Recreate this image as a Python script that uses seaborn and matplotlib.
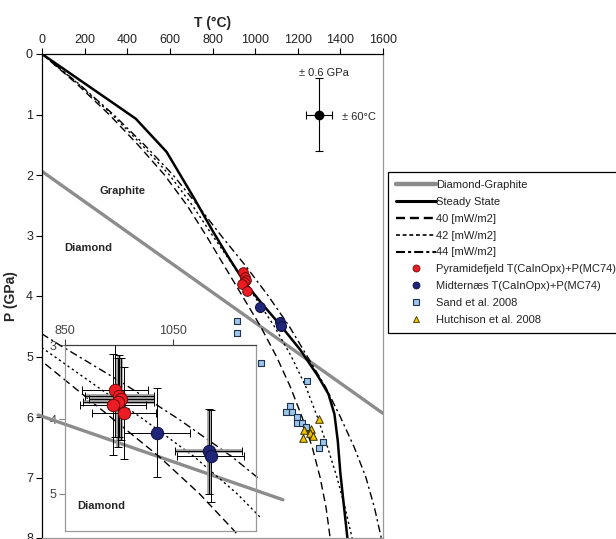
import numpy as np
import pandas as pd
import seaborn as sns
import matplotlib.pyplot as plt
from matplotlib.lines import Line2D
from matplotlib.patches import Rectangle

# diamond-graphite boundary (main plot and inset)
dg_T = [0, 1600]
dg_P = [1.94, 5.94]
dg_in_T = [800, 1255]
dg_in_P = [3.94, 5.08]

# steady state geotherm
ss_T = [0, 350, 440, 585, 718, 800, 870, 944, 1030, 1118, 1212, 1296, 1344, 1372, 1388, 1400, 1416, 1433]
ss_P = [0, 0.85, 1.07, 1.62, 2.41, 2.92, 3.33, 3.74, 4.12, 4.48, 4.89, 5.33, 5.62, 5.95, 6.4, 6.93, 7.45, 8.0]

# surface heat flow geotherms
geo_P = [0, 0.5, 1.0, 1.5, 2.0, 2.5, 3.0, 3.5, 4.0, 4.5, 5.0, 5.5, 6.0, 6.5, 7.0, 7.5, 8.0]
geo40_T = [0, 165, 315, 450, 575, 680, 770, 855, 940, 1025, 1100, 1165, 1220, 1268, 1305, 1333, 1352]
geo42_T = [0, 172, 328, 468, 598, 705, 800, 898, 996, 1090, 1170, 1238, 1292, 1340, 1384, 1422, 1455]
geo44_T = [0, 175, 335, 480, 615, 730, 840, 955, 1062, 1160, 1245, 1330, 1400, 1465, 1520, 1560, 1592]

# Pyramidefjeld
pyr_T = [943, 951, 955, 949, 939, 960]
pyr_P = [3.61, 3.69, 3.73, 3.77, 3.80, 3.91]
pyr_Terr = [62, 64, 60, 66, 62, 60]
pyr_Perr = [0.63, 0.55, 0.55, 0.60, 0.68, 0.62]
pyr_gray = [False, True, True, True, False, False]

# Midternaes
mid_T = [1021, 1117, 1121]
mid_P = [4.18, 4.43, 4.49]
mid_Terr = [62, 62, 62]
mid_Perr = [0.60, 0.57, 0.62]
mid_gray = [False, True, False]

# Sand et al. 2008
sand_T = [914, 917, 1028, 1245, 1165, 1146, 1173, 1197, 1196, 1220, 1240, 1318, 1301]
sand_P = [4.41, 4.61, 5.11, 5.41, 5.82, 5.91, 5.91, 6.00, 6.10, 6.10, 6.16, 6.41, 6.51]

# Hutchison et al. 2008
hut_T = [1301, 1227, 1262, 1257, 1272, 1223]
hut_P = [6.04, 6.21, 6.20, 6.27, 6.31, 6.34]

# uncertainty glyph
unc_T, unc_P, unc_Terr, unc_Perr = [1300], [1.0], [60], [0.6]

GRAY = '#8c8c8c'
RED = '#ec1c24'
NAVY = '#1f2577'
LBLUE = '#9cc6ea'
YEL = '#f2c200'

sns.set_theme(style='white')
plt.rcParams['font.family'] = ['Liberation Sans', 'DejaVu Sans']
plt.rcParams['lines.scale_dashes'] = False

DASH40 = (0, (5.5, 3))
DASH42 = (0, (1.6, 2.2))
DASH44 = (0, (5.5, 2.5, 1.6, 2.5))

fig = plt.figure(figsize=(6.16, 5.39), dpi=100)
ax = fig.add_axes([42/616, 1/539, 341/616, 484/539])

def line(a, x, y, **kw):
    sns.lineplot(x=x, y=y, ax=a, sort=False, estimator=None, **kw)
    return a.lines[-1]

line(ax, dg_T, dg_P, color=GRAY, lw=2.4, zorder=2)
line(ax, geo40_T, geo_P, color='black', lw=1.0, linestyle=DASH40, zorder=2)
line(ax, geo42_T, geo_P, color='black', lw=1.0, linestyle=DASH42, zorder=2)
line(ax, geo44_T, geo_P, color='black', lw=1.0, linestyle=DASH44, zorder=2)
line(ax, ss_T, ss_P, color='black', lw=1.8, zorder=2)

sns.scatterplot(x=sand_T, y=sand_P, ax=ax, marker='s', s=24, color=LBLUE,
                edgecolor='#1d3350', linewidth=0.8, zorder=4)
sns.scatterplot(x=hut_T, y=hut_P, ax=ax, marker='^', s=30, color=YEL,
                edgecolor='#3a3000', linewidth=0.7, zorder=4)
sns.scatterplot(x=pyr_T, y=pyr_P, ax=ax, marker='o', s=48, color=RED,
                edgecolor='#6a0a0a', linewidth=0.7, zorder=5)
sns.scatterplot(x=mid_T, y=mid_P, ax=ax, marker='o', s=52, color=NAVY,
                edgecolor='#0d1040', linewidth=0.7, zorder=5)

ax.errorbar(unc_T, unc_P, xerr=unc_Terr, yerr=unc_Perr, fmt='o', color='black',
            ms=6, elinewidth=0.8, capsize=3, capthick=0.8)
ax.text(1322, 0.31, '± 0.6 GPa', ha='center', va='center', fontsize=8)
ax.text(1408, 1.04, '± 60°C', ha='left', va='center', fontsize=8)
ax.text(378, 2.26, 'Graphite', ha='center', va='center', fontsize=8, fontweight='bold')
ax.text(219, 3.21, 'Diamond', ha='center', va='center', fontsize=8, fontweight='bold')

ax.set_xlim(0, 1600)
ax.set_ylim(8, 0)
ax.set_xticks(range(0, 1601, 200))
ax.set_yticks(range(0, 9))
ax.xaxis.tick_top()
ax.xaxis.set_label_position('top')
ax.tick_params(axis='x', top=True, bottom=False, labeltop=True, labelbottom=False,
               direction='out', length=4, width=0.8, color='black', pad=2,
               labelsize=9, labelcolor='#222222')
ax.tick_params(axis='y', left=True, direction='out', length=4, width=0.8,
               color='black', pad=2.5, labelsize=9, labelcolor='#222222')
ax.set_xlabel('T (°C)', fontsize=10, fontweight='bold', labelpad=5)
ax.set_ylabel('P (GPa)', fontsize=10, fontweight='bold', labelpad=6)
for side, col in [('top', 'black'), ('left', 'black'), ('right', '#9a9a9a'), ('bottom', '#9a9a9a')]:
    ax.spines[side].set_visible(True)
    ax.spines[side].set_color(col)
    ax.spines[side].set_linewidth(0.9)

# inset
ax_in = fig.add_axes([65/616, 1 - 531/539, 191/616, 186/539])
ax_in.set_facecolor('white')
ax_in.set_xlim(850, 1205)
ax_in.set_ylim(5.5, 3)

line(ax_in, dg_in_T, dg_in_P, color=GRAY, lw=2.4, zorder=2, clip_on=False)
clip = Rectangle((808, 2.7), 1212 - 808, 5.56 - 2.7, transform=ax_in.transData)
for T, ls in [(geo40_T, DASH40), (geo42_T, DASH42), (geo44_T, DASH44)]:
    ln = line(ax_in, T, geo_P, color='black', lw=1.0, linestyle=ls, zorder=2)
    ln.set_clip_path(clip)

err = pd.DataFrame({
    'T': pyr_T + mid_T, 'P': pyr_P + mid_P,
    'Terr': pyr_Terr + mid_Terr, 'Perr': pyr_Perr + mid_Perr,
    'gray': pyr_gray + mid_gray,
})
g = err[err.gray]
ax_in.errorbar(g['T'], g['P'], xerr=g['Terr'], yerr=g['Perr'], fmt='none',
               ecolor='#9a9a9a', elinewidth=2.6, capsize=0, zorder=3)
ax_in.errorbar(err['T'], err['P'], xerr=err['Terr'], yerr=err['Perr'], fmt='none',
               ecolor='black', elinewidth=0.7, capsize=3, capthick=0.7, zorder=3.5)

sns.scatterplot(x=pyr_T, y=pyr_P, ax=ax_in, marker='o', s=80, color=RED,
                edgecolor='#6a0a0a', linewidth=0.7, zorder=5)
sns.scatterplot(x=mid_T, y=mid_P, ax=ax_in, marker='o', s=80, color=NAVY,
                edgecolor='#0d1040', linewidth=0.7, zorder=5)
ax_in.text(918, 5.17, 'Diamond', ha='center', va='center', fontsize=8, fontweight='bold')

ax_in.set_xticks([850, 1050])
ax_in.set_yticks([3, 4, 5])
ax_in.xaxis.tick_top()
ax_in.tick_params(axis='x', top=True, bottom=False, labeltop=True, labelbottom=False,
                  direction='out', length=4, width=0.8, color='#404040', pad=2,
                  labelsize=9, labelcolor='#444444')
ax_in.tick_params(axis='y', left=True, direction='out', length=4, width=0.8,
                  color='#808080', pad=2, labelsize=9, labelcolor='#444444')
ax_in.set_xlabel('')
ax_in.set_ylabel('')
for side in ['top', 'left', 'right', 'bottom']:
    ax_in.spines[side].set_visible(True)
    ax_in.spines[side].set_color('#404040' if side == 'top' else '#9a9a9a')
    ax_in.spines[side].set_linewidth(0.9)

handles = [
    Line2D([], [], color=GRAY, lw=3.2),
    Line2D([], [], color='black', lw=2.2),
    Line2D([], [], color='black', lw=1.7, linestyle=(0, (6.5, 3.5))),
    Line2D([], [], color='black', lw=1.2, linestyle=(0, (2.8, 2))),
    Line2D([], [], color='black', lw=1.5, linestyle=(0, (6.5, 2.2, 2.2, 2.2))),
    Line2D([], [], ls='none', marker='o', ms=5, mfc=RED, mec='#6a0a0a', mew=0.6),
    Line2D([], [], ls='none', marker='o', ms=5, mfc=NAVY, mec='#0d1040', mew=0.6),
    Line2D([], [], ls='none', marker='s', ms=4.5, mfc=LBLUE, mec='#1d3350', mew=0.8),
    Line2D([], [], ls='none', marker='^', ms=4.5, mfc=YEL, mec='#3a3000', mew=0.6),
]
labels = ['Diamond-Graphite', 'Steady State', '40 [mW/m2]', '42 [mW/m2]', '44 [mW/m2]',
          'Pyramidefjeld T(CaInOpx)+P(MC74)', 'Midternæs T(CaInOpx)+P(MC74)',
          'Sand et al. 2008', 'Hutchison et al. 2008']
leg = fig.legend(handles, labels, loc='upper left', bbox_to_anchor=(388/616, 1 - 172/539),
                 bbox_transform=fig.transFigure, frameon=True, fancybox=False,
                 framealpha=1, fontsize=8, handlelength=3.6, handletextpad=0.0,
                 labelspacing=0.61, borderpad=0.75, borderaxespad=0)
leg.get_frame().set_edgecolor('black')
leg.get_frame().set_linewidth(0.9)
for t in leg.get_texts():
    t.set_color('#222222')

plt.savefig('out.png', dpi=100)
